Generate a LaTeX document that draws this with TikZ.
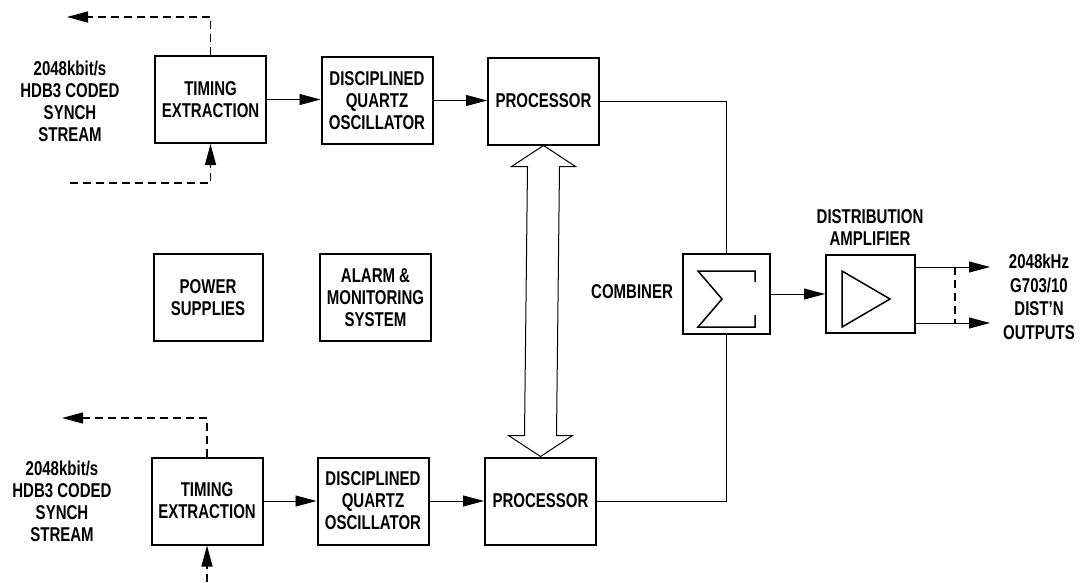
\documentclass[tikz,border=0pt]{standalone}
\usepackage{fontspec}
\setmainfont{Liberation Sans}[FakeStretch=0.75]
\usetikzlibrary{arrows.meta,calc}
\begin{document}
\begin{tikzpicture}[x=1pt,y=-1pt,
  txt/.style={align=center,inner sep=0pt,font=\fontsize{20}{22}\selectfont\bfseries},
  blk/.style={txt,draw,line width=2pt},
  bsz/.style={minimum width=111pt,minimum height=87pt},
  conn/.style={line width=0.9pt},
  dsh/.style={line width=1.2pt,dash pattern=on 8pt off 5pt},
  tip/.style={-{Triangle[length=21pt,width=11pt]}}]
\useasboundingbox (0,0) rectangle (1081,582);
% blocks
\node[blk,bsz] (te1) at (210.5,99.5) {TIMING\\EXTRACTION};
\node[blk,bsz] (dq1) at (377,100.5) {DISCIPLINED\\QUARTZ\\OSCILLATOR};
\node[blk,bsz] (pr1) at (543.5,101) {PROCESSOR};
\node[blk,bsz] (te2) at (207,501) {TIMING\\EXTRACTION};
\node[blk,bsz] (dq2) at (373,501) {DISCIPLINED\\QUARTZ\\OSCILLATOR};
\node[blk,bsz] (pr2) at (540.5,501) {PROCESSOR};
\node[blk,bsz,minimum width=109pt] (ps) at (208,297.5) {POWER\\SUPPLIES};
\node[blk,bsz] (al) at (375.5,297.5) {ALARM \&\\MONITORING\\SYSTEM};
\node[blk,minimum width=87pt,minimum height=80pt] (cb) at (726.5,294) {};
\node[blk,minimum width=89pt,minimum height=78pt] (amp) at (870.5,294) {};
% symbols
\draw[line width=1.5pt] ($(cb.center)+(28.5,-12)$) -- ++(0,-11) -- ++(-57,0) -- ++(24,28) -- ++(-24,28) -- ++(57,0) -- ++(0,-12);
\draw[line width=1.5pt] ($(amp.center)+(-28.5,-23)$) -- ++(0,56) -- ++(48,-28) -- cycle;
% labels
\node[txt] (l1) at (70,101) {2048kbit/s\\HDB3 CODED\\SYNCH\\STREAM};
\node[txt] (l2) at (62,501) {2048kbit/s\\HDB3 CODED\\SYNCH\\STREAM};
\node[txt] (lc) at (632,292) {COMBINER};
\node[txt] (la) at (870,228) {DISTRIBUTION\\AMPLIFIER};
\node[txt,font=\fontsize{20}{23.5}\selectfont\bfseries] (lo) at (1039,297) {2048kHz\\G703/10\\DIST{\char"0027}N\\OUTPUTS};
% connectors
\draw[conn,tip] (te1.east) -- (te1.east -| dq1.west);
\draw[conn,tip] (dq1.east) -- (dq1.east -| pr1.west);
\draw[conn,tip] (te2.east) -- (te2.east -| dq2.west);
\draw[conn,tip] (dq2.east) -- (dq2.east -| pr2.west);
\draw[conn] (pr1.east) -| (cb.north);
\draw[conn] (pr2.east) -| (cb.south);
\draw[conn,tip] (cb.east) -- (amp.west);
\coordinate (o1) at (990,267);
\coordinate (o2) at (990,323);
\draw[conn,tip] (amp.east |- o1) -- (o1);
\draw[conn,tip] (amp.east |- o2) -- (o2);
\coordinate (d1) at (955,267);
\coordinate (d2) at (955,323);
\draw[dsh] (d1) -- (d2);
% timing inputs/outputs
\coordinate (t1o) at (67,17);
\coordinate (t1i) at (70,183);
\coordinate (t2o) at (62,418);
\coordinate (t2i) at (207,582);
\draw[dsh,tip] (te1.north) |- (t1o);
\draw[dsh,tip] (t1i) -| (te1.south);
\draw[dsh,tip] (te2.north) |- (t2o);
\draw[dsh,tip] (t2i) -- (te2.south);
% double arrow between processors
\draw[line width=1pt] (pr1.south) -- ++(32,21) -- ++(-16,0) -- ($(pr2.north)+(16,-21)$) -- ++(16,0) -- (pr2.north) -- ++(-32,-21) -- ++(16,0) -- ($(pr1.south)+(-16,21)$) -- ++(-16,0) -- cycle;
\end{tikzpicture}
\end{document}
